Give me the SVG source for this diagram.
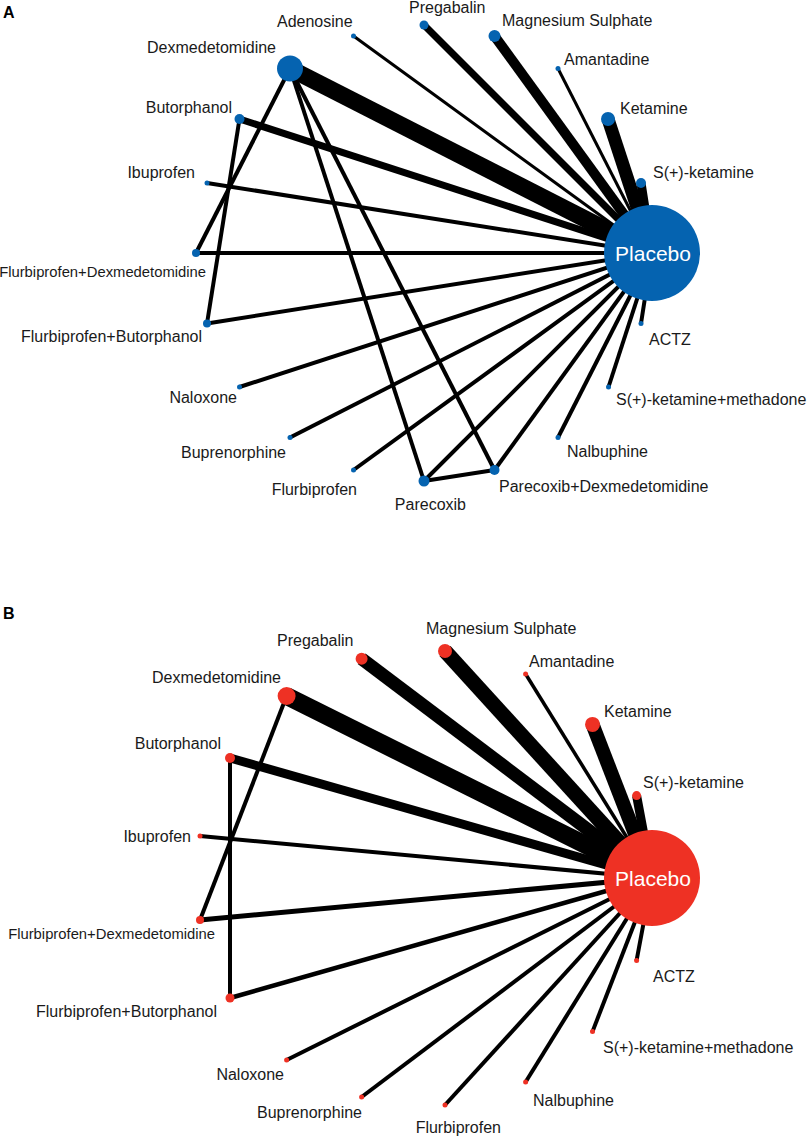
<svg xmlns="http://www.w3.org/2000/svg" width="809" height="1138" viewBox="0 0 809 1138">
<style>
  .bg{fill:#ffffff}
  .e{stroke:#000000;fill:none;stroke-linecap:butt}
  .na{fill:#0563B0}
  .nb{fill:#EE3124}
  text{font-family:"Liberation Sans",Arial,sans-serif;font-size:16px;fill:#1a1a1a}
  .sm{font-size:14.8px}
  .pl{font-size:21px;fill:#ffffff;text-anchor:middle}
  .end{text-anchor:end}
  .panel{font-weight:bold;font-size:16px;fill:#000000}
</style>
<rect class="bg" x="0" y="0" width="809" height="1138"/>
<text class="panel" x="3" y="18">A</text>
<text class="panel" x="3" y="619">B</text>

<g id="edges-A">
  <line class="e" x1="641" y1="183" x2="652" y2="253" stroke-width="9"/>
  <line class="e" x1="608" y1="119" x2="652" y2="253" stroke-width="13"/>
  <line class="e" x1="558" y1="68.5" x2="652" y2="253" stroke-width="3"/>
  <line class="e" x1="494.5" y1="36" x2="652" y2="253" stroke-width="10"/>
  <line class="e" x1="424" y1="25" x2="652" y2="253" stroke-width="7"/>
  <line class="e" x1="353.5" y1="36" x2="652" y2="253" stroke-width="3"/>
  <line class="e" x1="290" y1="68.5" x2="652" y2="253" stroke-width="17"/>
  <line class="e" x1="239.5" y1="119" x2="652" y2="253" stroke-width="7"/>
  <line class="e" x1="207" y1="183" x2="652" y2="253" stroke-width="4"/>
  <line class="e" x1="196" y1="253" x2="652" y2="253" stroke-width="4"/>
  <line class="e" x1="207" y1="323.5" x2="652" y2="253" stroke-width="4"/>
  <line class="e" x1="239.5" y1="387" x2="652" y2="253" stroke-width="4"/>
  <line class="e" x1="290" y1="437.5" x2="652" y2="253" stroke-width="4"/>
  <line class="e" x1="353.5" y1="470" x2="652" y2="253" stroke-width="4"/>
  <line class="e" x1="424" y1="481" x2="652" y2="253" stroke-width="4"/>
  <line class="e" x1="494.5" y1="470" x2="652" y2="253" stroke-width="4"/>
  <line class="e" x1="558" y1="437.5" x2="652" y2="253" stroke-width="4"/>
  <line class="e" x1="608.5" y1="387" x2="652" y2="253" stroke-width="4"/>
  <line class="e" x1="641" y1="323.5" x2="652" y2="253" stroke-width="4"/>
  <line class="e" x1="290" y1="68.5" x2="196" y2="253" stroke-width="4"/>
  <line class="e" x1="239.5" y1="119" x2="207" y2="323.5" stroke-width="4"/>
  <line class="e" x1="290" y1="68.5" x2="424" y2="481" stroke-width="4"/>
  <line class="e" x1="290" y1="68.5" x2="494.5" y2="470" stroke-width="4"/>
  <line class="e" x1="424" y1="481" x2="494.5" y2="470" stroke-width="4"/>
</g>

<g id="edges-B">
  <line class="e" x1="636.6" y1="795.6" x2="652" y2="878" stroke-width="9"/>
  <line class="e" x1="592.5" y1="724.4" x2="652" y2="878" stroke-width="14"/>
  <line class="e" x1="525.6" y1="674" x2="652" y2="878" stroke-width="3.5"/>
  <line class="e" x1="445" y1="651" x2="652" y2="878" stroke-width="15"/>
  <line class="e" x1="361.6" y1="658.7" x2="652" y2="878" stroke-width="13"/>
  <line class="e" x1="286.6" y1="696" x2="652" y2="878" stroke-width="18"/>
  <line class="e" x1="230" y1="758" x2="652" y2="878" stroke-width="9"/>
  <line class="e" x1="200" y1="836" x2="652" y2="878" stroke-width="4"/>
  <line class="e" x1="200" y1="920" x2="652" y2="878" stroke-width="5"/>
  <line class="e" x1="230" y1="998" x2="652" y2="878" stroke-width="4.5"/>
  <line class="e" x1="286.6" y1="1060" x2="652" y2="878" stroke-width="4"/>
  <line class="e" x1="361.6" y1="1097" x2="652" y2="878" stroke-width="4"/>
  <line class="e" x1="445" y1="1105" x2="652" y2="878" stroke-width="4"/>
  <line class="e" x1="525.6" y1="1082" x2="652" y2="878" stroke-width="4"/>
  <line class="e" x1="592.5" y1="1031.6" x2="652" y2="878" stroke-width="4"/>
  <line class="e" x1="636.6" y1="960.4" x2="652" y2="878" stroke-width="4"/>
  <line class="e" x1="286.6" y1="696" x2="200" y2="920" stroke-width="4"/>
  <line class="e" x1="230" y1="758" x2="230" y2="998" stroke-width="4"/>
</g>

<g id="nodes-A">
  <g id="a-placebo"><circle class="na" cx="652" cy="253" r="48"/><text class="pl" x="653" y="261">Placebo</text></g>
  <g id="a-sketamine"><circle class="na" cx="641" cy="183" r="5"/><text x="653" y="178">S(+)-ketamine</text></g>
  <g id="a-ketamine"><circle class="na" cx="608" cy="119" r="7"/><text x="620" y="114">Ketamine</text></g>
  <g id="a-amantadine"><circle class="na" cx="558" cy="68.5" r="2.5"/><text x="564" y="65">Amantadine</text></g>
  <g id="a-magnesium"><circle class="na" cx="494.5" cy="36" r="6"/><text x="502" y="26">Magnesium Sulphate</text></g>
  <g id="a-pregabalin"><circle class="na" cx="424" cy="25" r="4.5"/><text x="409" y="13">Pregabalin</text></g>
  <g id="a-adenosine"><circle class="na" cx="353.5" cy="36" r="2.5"/><text x="277" y="27">Adenosine</text></g>
  <g id="a-dex"><circle class="na" cx="290" cy="68.5" r="13"/><text class="end" x="276" y="53">Dexmedetomidine</text></g>
  <g id="a-butorphanol"><circle class="na" cx="239.5" cy="119" r="5"/><text class="end" x="232" y="113">Butorphanol</text></g>
  <g id="a-ibuprofen"><circle class="na" cx="207" cy="183" r="2.5"/><text class="end" x="195" y="178">Ibuprofen</text></g>
  <g id="a-flurdex"><circle class="na" cx="196" cy="253" r="4"/><text class="sm end" x="206" y="277">Flurbiprofen+Dexmedetomidine</text></g>
  <g id="a-flurbut"><circle class="na" cx="207" cy="323.5" r="4"/><text class="end" x="202" y="342">Flurbiprofen+Butorphanol</text></g>
  <g id="a-naloxone"><circle class="na" cx="239.5" cy="387" r="2.5"/><text class="end" x="237" y="403">Naloxone</text></g>
  <g id="a-buprenorphine"><circle class="na" cx="290" cy="437.5" r="2.5"/><text class="end" x="286" y="458">Buprenorphine</text></g>
  <g id="a-flurbiprofen"><circle class="na" cx="353.5" cy="470" r="2.5"/><text class="end" x="357" y="495">Flurbiprofen</text></g>
  <g id="a-parecoxib"><circle class="na" cx="424" cy="481" r="5.5"/><text class="end" x="466" y="510">Parecoxib</text></g>
  <g id="a-parecoxibdex"><circle class="na" cx="494.5" cy="470" r="5"/><text x="499" y="492">Parecoxib+Dexmedetomidine</text></g>
  <g id="a-nalbuphine"><circle class="na" cx="558" cy="437.5" r="2.5"/><text x="567" y="457">Nalbuphine</text></g>
  <g id="a-skmeth"><circle class="na" cx="608.5" cy="387" r="2.5"/><text x="616" y="405">S(+)-ketamine+methadone</text></g>
  <g id="a-actz"><circle class="na" cx="641" cy="323.5" r="2.5"/><text x="649" y="345">ACTZ</text></g>
</g>

<g id="nodes-B">
  <g id="b-placebo"><circle class="nb" cx="652" cy="878" r="48"/><text class="pl" x="653" y="886">Placebo</text></g>
  <g id="b-sketamine"><circle class="nb" cx="636.6" cy="795.6" r="4.5"/><text x="643" y="788">S(+)-ketamine</text></g>
  <g id="b-ketamine"><circle class="nb" cx="592.5" cy="724.4" r="7.5"/><text x="604" y="717">Ketamine</text></g>
  <g id="b-amantadine"><circle class="nb" cx="525.6" cy="674" r="2.5"/><text x="529" y="667">Amantadine</text></g>
  <g id="b-magnesium"><circle class="nb" cx="445" cy="651" r="7"/><text x="426" y="634">Magnesium Sulphate</text></g>
  <g id="b-pregabalin"><circle class="nb" cx="361.6" cy="658.7" r="6"/><text x="277" y="646">Pregabalin</text></g>
  <g id="b-dex"><circle class="nb" cx="286.6" cy="696" r="9"/><text class="end" x="281" y="683">Dexmedetomidine</text></g>
  <g id="b-butorphanol"><circle class="nb" cx="230" cy="758" r="5"/><text class="end" x="221" y="749">Butorphanol</text></g>
  <g id="b-ibuprofen"><circle class="nb" cx="200" cy="836" r="2.5"/><text class="end" x="191" y="842">Ibuprofen</text></g>
  <g id="b-flurdex"><circle class="nb" cx="200" cy="920" r="4"/><text class="sm end" x="215" y="939">Flurbiprofen+Dexmedetomidine</text></g>
  <g id="b-flurbut"><circle class="nb" cx="230" cy="998" r="4.5"/><text class="end" x="217" y="1017">Flurbiprofen+Butorphanol</text></g>
  <g id="b-naloxone"><circle class="nb" cx="286.6" cy="1060" r="2.5"/><text class="end" x="284" y="1080">Naloxone</text></g>
  <g id="b-buprenorphine"><circle class="nb" cx="361.6" cy="1097" r="2.5"/><text class="end" x="362" y="1118">Buprenorphine</text></g>
  <g id="b-flurbiprofen"><circle class="nb" cx="445" cy="1105" r="2.5"/><text class="end" x="501" y="1133">Flurbiprofen</text></g>
  <g id="b-nalbuphine"><circle class="nb" cx="525.6" cy="1082" r="2.5"/><text x="533" y="1106">Nalbuphine</text></g>
  <g id="b-skmeth"><circle class="nb" cx="592.5" cy="1031.6" r="2.5"/><text x="603" y="1053">S(+)-ketamine+methadone</text></g>
  <g id="b-actz"><circle class="nb" cx="636.6" cy="960.4" r="2.5"/><text x="653" y="982">ACTZ</text></g>
</g>
</svg>
